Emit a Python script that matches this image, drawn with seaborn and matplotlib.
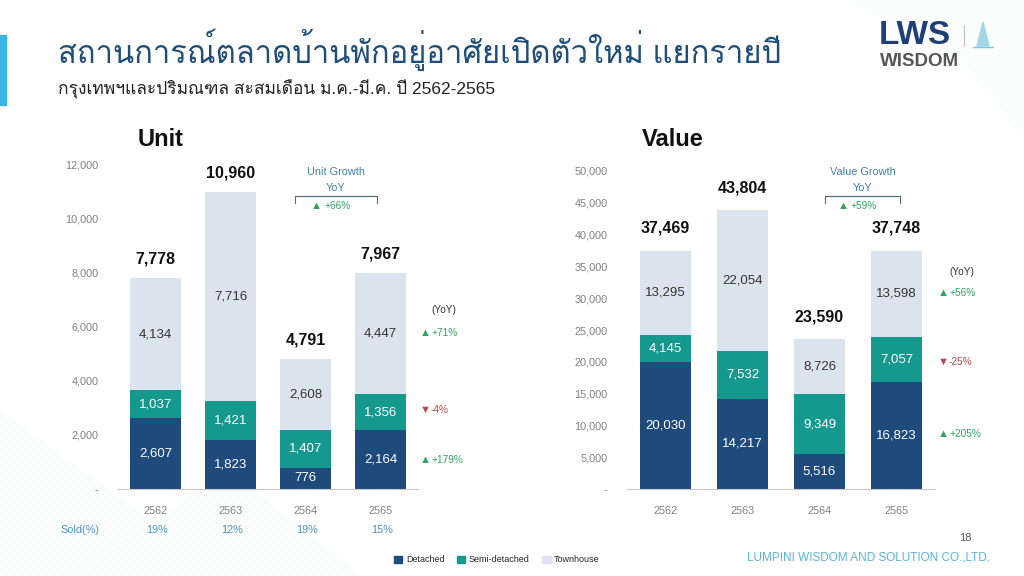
import numpy as np
import pandas as pd
import matplotlib
matplotlib.use("Agg")
import matplotlib.pyplot as plt
import seaborn as sns
from matplotlib import font_manager
from matplotlib.patches import Patch, Rectangle, Polygon
from matplotlib.ticker import FuncFormatter, FixedLocator
from fontTools.ttLib import TTFont

years = ["2562", "2563", "2564", "2565"]

unit_detached = [2607, 1823, 776, 2164]
unit_semi = [1037, 1421, 1407, 1356]
unit_town = [4134, 7716, 2608, 4447]
unit_total_labels = ["7,778", "10,960", "4,791", "7,967"]
sold_pct = ["19%", "12%", "19%", "15%"]

value_detached = [20030, 14217, 5516, 16823]
value_semi = [4145, 7532, 9349, 7057]
value_town = [13295, 22054, 8726, 13598]
value_total_labels = ["37,469", "43,804", "23,590", "37,748"]

unit_growth = ["+71%", "-4%", "+179%"]       # townhouse, semi, detached
value_growth = ["+56%", "-25%", "+205%"]
unit_total_growth = "+66%"
value_total_growth = "+59%"

C_DET = "#1f4a7c"
C_SEMI = "#15998e"
C_TOWN = "#dbe4ee"
C_GREEN = "#2fa45e"
C_RED = "#b9474b"
C_GRAY = "#808080"


def find_thai_family():
    # หา font ที่มี glyph ภาษาไทย
    for f in font_manager.fontManager.ttflist:
        try:
            tt = TTFont(f.fname, fontNumber=0, lazy=True)
            cmap = tt.getBestCmap()
            if cmap and 0x0E2A in cmap and 0x0E49 in cmap:
                return f.name
        except Exception:
            continue
    return "DejaVu Sans"


sns.set_theme(style="white")
thai = find_thai_family()
plt.rcParams["font.family"] = ["Liberation Sans", thai, "DejaVu Sans"]

fig = plt.figure(figsize=(10.24, 5.76), dpi=100)
fig.patch.set_facecolor("white")

# background layer in pixel coordinates
bg = fig.add_axes([0, 0, 1, 1], zorder=-1)
bg.set_xlim(0, 1024)
bg.set_ylim(576, 0)
bg.axis("off")


def hatch(poly, direction, color="#c5dbe2", step=4, alpha=0.3):
    patch = Polygon(poly, closed=True, facecolor="none", edgecolor="none")
    bg.add_patch(patch)
    for o in np.arange(-700, 1400, step):
        if direction == "\\":
            line, = bg.plot([o, o + 700], [0, 700], color=color, lw=0.5, alpha=alpha)
        else:
            line, = bg.plot([o, o - 700], [0, 700], color=color, lw=0.5, alpha=alpha)
        line.set_clip_path(patch)


hatch([(840, 0), (1024, 0), (1024, 140), (960, 60)], "\\", alpha=0.22)
hatch([(0, 410), (150, 520), (70, 576), (0, 576)], "\\")
hatch([(70, 576), (230, 470), (360, 576)], "/")

bg.add_patch(Rectangle((0, 35), 6, 70, color="#3db5e4"))

bg.text(58, 50, "สถานการณ์ตลาดบ้านพักอยู่อาศัยเปิดตัวใหม่ แยกรายปี", fontsize=22.3,
        color="#1f4e79", va="center", ha="left")
bg.text(58, 89, "กรุงเทพฯและปริมณฑล สะสมเดือน ม.ค.-มี.ค. ปี 2562-2565", fontsize=12.5,
        color="#222222", va="center", ha="left")

# logo
bg.text(879, 35, "LWS", fontsize=24, fontweight="bold", color="#1f3f77", va="center", ha="left")
bg.text(880, 61, "WISDOM", fontsize=13.5, fontweight="bold", color="#555555", va="center", ha="left")
bg.plot([964, 964], [25, 46], color="#c0c0c0", lw=0.8)
bg.add_patch(Polygon([(977, 46), (983, 22), (989, 46)], closed=True, color="#9fd6ea"))
bg.plot([973, 993], [47, 47], color="#7cc6e2", lw=1)

ax1 = fig.add_axes([118 / 1024, 87 / 576, 300 / 1024, 325 / 576])
ax2 = fig.add_axes([627 / 1024, 87 / 576, 308 / 1024, 318 / 576])


def stacked(ax, det, semi, town, ymax, step, totals, offset):
    det = np.array(det)
    semi = np.array(semi)
    town = np.array(town)
    parts = [(det, np.zeros(4), C_DET, "white"),
             (semi, det, C_SEMI, "white"),
             (town, det + semi, C_TOWN, "#333333")]
    for vals, bottom, color, tcol in parts:
        sns.barplot(x=years, y=vals, bottom=bottom, color=color, width=0.67,
                    saturation=1, errorbar=None, ax=ax, linewidth=0)
        for i in range(4):
            ax.text(i, bottom[i] + vals[i] / 2, f"{vals[i]:,}", ha="center", va="center",
                    fontsize=9.5, color=tcol)
    top = det + semi + town
    for i in range(4):
        ax.annotate(totals[i], (i, top[i]), xytext=(0, offset), textcoords="offset points",
                    ha="center", va="center", fontsize=11.5, fontweight="bold",
                    color="#111111", annotation_clip=False)
    ax.set_facecolor("none")
    ax.set_xlim(-0.5, 3.5)
    ax.set_ylim(0, ymax)
    ax.yaxis.set_major_locator(FixedLocator(np.arange(0, ymax + 1, step)))
    ax.yaxis.set_major_formatter(FuncFormatter(lambda v, p: "-" if v == 0 else f"{v:,.0f}"))
    for s in ["top", "right", "left"]:
        ax.spines[s].set_visible(False)
    ax.spines["bottom"].set_color("#c8c8c8")
    ax.spines["bottom"].set_linewidth(0.8)
    ax.tick_params(axis="y", length=0, pad=14, labelsize=7.8, labelcolor=C_GRAY)
    ax.tick_params(axis="x", which="major", length=0, pad=12, labelsize=7.8, labelcolor=C_GRAY)
    ax.xaxis.set_minor_locator(FixedLocator([-0.5, 0.5, 1.5, 2.5, 3.5]))
    ax.tick_params(axis="x", which="minor", length=5, color="#c8c8c8", width=0.8, direction="out")
    ax.set_xlabel("")
    ax.set_ylabel("")
    ax.grid(False)


stacked(ax1, unit_detached, unit_semi, unit_town, 12000, 2000, unit_total_labels, 14)
stacked(ax2, value_detached, value_semi, value_town, 50000, 5000, value_total_labels, 16)

bg.text(138, 140, "Unit", fontsize=17, fontweight="bold", color="#111111", va="center")
bg.text(642, 140, "Value", fontsize=17, fontweight="bold", color="#111111", va="center")

# sold row
C_BLUE = "#4d93c3"
bg.text(60, 530, "Sold(%)", fontsize=7.8, color=C_BLUE, va="center")
for i, s in enumerate(sold_pct):
    bg.text(157 + 75 * i, 530, s, fontsize=7.8, color=C_BLUE, va="center", ha="center")


def growth_box(x0, x1, title, total):
    xc = (x0 + x1) / 2
    bg.text(xc, 172, title, fontsize=7.8, color="#3f7fa8", va="center", ha="center")
    bg.text(xc, 188, "YoY", fontsize=7.8, color="#3f7fa8", va="center", ha="center")
    bg.plot([x0, x0, x1, x1], [203, 196, 196, 203], color="#4a6b7a", lw=0.8)
    bg.text(xc - 25, 206, "▲", fontsize=8, color=C_GREEN, va="center", ha="left")
    bg.text(xc - 12, 206, total, fontsize=7.3, color=C_GREEN, va="center", ha="left")


growth_box(295, 377, "Unit Growth", unit_total_growth)
growth_box(825, 900, "Value Growth", value_total_growth)


def yoy_column(x, yhead, ys, labels):
    bg.text(x + 24, yhead, "(YoY)", fontsize=7.3, color="#333333", va="center", ha="center")
    for y, lab in zip(ys, labels):
        up = lab.startswith("+")
        col = C_GREEN if up else C_RED
        bg.text(x, y, "▲" if up else "▼", fontsize=8, color=col, va="center", ha="left")
        bg.text(x + 11, y, lab, fontsize=7.3, color=col, va="center", ha="left")


yoy_column(420, 310, [333, 410, 460], unit_growth)
yoy_column(938, 272, [293, 362, 434], value_growth)

# legend
handles = [Patch(color=C_DET, label="Detached"),
           Patch(color=C_SEMI, label="Semi-detached"),
           Patch(color=C_TOWN, label="Townhouse")]
fig.legend(handles=handles, loc="center", bbox_to_anchor=(497 / 1024, 1 - 560 / 576),
           ncol=3, frameon=False, fontsize=6.5, handlelength=0.9, handleheight=0.9,
           handletextpad=0.4, columnspacing=1.4)

bg.text(972, 538, "18", fontsize=8, color="#555555", va="center", ha="right")
bg.text(990, 558, "LUMPINI WISDOM AND SOLUTION CO.,LTD.", fontsize=8.5, color="#5ab4dc",
        va="center", ha="right")

fig.savefig("out.png", dpi=100)
